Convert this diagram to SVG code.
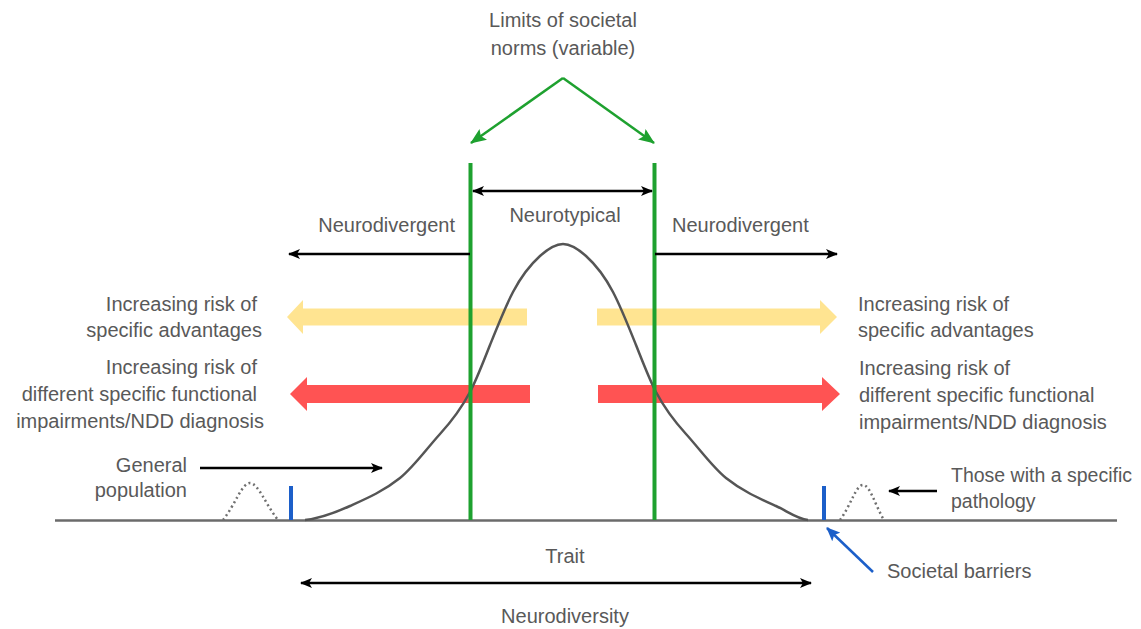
<svg xmlns="http://www.w3.org/2000/svg" width="1141" height="629" viewBox="0 0 1141 629">
<style>
text{font-family:"Liberation Sans",Arial,sans-serif;font-size:20px;fill:#595959}
.blk{stroke:#000;stroke-width:2.5;fill:none}
.grn{stroke:#1ea12f;fill:none}
.blue{stroke:#1c5fc9;fill:none}
.dot{stroke:#707070;stroke-width:2.5;fill:none;stroke-dasharray:2 3}
.yel{fill:#ffd966;opacity:0.72}
.red{fill:#ff1a1a;opacity:0.75}
</style>
<defs>
<marker id="ab" viewBox="0 0 12 10" refX="11" refY="5" markerWidth="12" markerHeight="10" markerUnits="userSpaceOnUse" orient="auto-start-reverse"><path d="M0,0 L12,5 L0,10 L3,5 Z" fill="#000"/></marker>
<marker id="ag" viewBox="0 0 16 13" refX="15" refY="6.5" markerWidth="16" markerHeight="13" markerUnits="userSpaceOnUse" orient="auto"><path d="M0,0 L16,6.5 L0,13 L3,6.5 Z" fill="#1ea12f"/></marker>
<marker id="abl" viewBox="0 0 14 12" refX="13" refY="6" markerWidth="14" markerHeight="12" markerUnits="userSpaceOnUse" orient="auto"><path d="M0,0 L14,6 L0,12 L3,6 Z" fill="#1c5fc9"/></marker>
</defs>
<rect width="1141" height="629" fill="#fff"/>

<g id="baseline"><line x1="55" y1="520.5" x2="1117" y2="520.5" stroke="#6b6b6b" stroke-width="2.5"/></g>

<g id="bands">
<path class="yel" d="M527,308.5 L303,308.5 L303,300 L287,317 L303,334 L303,325.5 L527,325.5 Z"/>
<path class="yel" d="M597,308.5 L820,308.5 L820,300 L837,317 L820,334 L820,325.5 L597,325.5 Z"/>
<path class="red" d="M530,385 L307,385 L307,377 L290,394 L307,411 L307,403 L530,403 Z"/>
<path class="red" d="M598,385 L822,385 L822,377 L840,394 L822,411 L822,403 L598,403 Z"/>
</g>

<g id="curve">
<path d="M305,520 C320,518.5 335,512.75 350,506 C366.67,498.5 383.33,491.33 400,478 C413.33,467.33 426.67,448.67 440,434 C450,423 460,411 470,392 C476.67,379.33 483.33,361.67 490,345 C497.67,325.83 505.33,306.57 513,292 C522,274.9 531,264.1 540,256 C547.67,249.1 555.33,244 563,244 C570.67,244 578.33,249.1 586,256 C595,264.1 604,274.9 613,292 C620.67,306.57 628.33,325.83 636,345 C642.67,361.67 649.33,379.33 656,392 C666,411 676,423 686,434 C699.33,448.67 712.67,467.33 726,478 C742.67,491.33 759.33,498.5 776,506 C786.67,510.8 797.33,518.9 808,520" fill="none" stroke="#555" stroke-width="2.5"/>
<path class="dot" d="M223,520 C235,505 242,483 250,483 C258,483 266,505 278,520"/>
<path class="dot" d="M840,520 C851,505 856,485 863,485 C870,485 875,505 884,520"/>
</g>

<g id="limits">
<line class="grn" x1="470.5" y1="163" x2="470.5" y2="520" stroke-width="4"/>
<line class="grn" x1="654.5" y1="163" x2="654.5" y2="520" stroke-width="4"/>
<text x="563" y="27" text-anchor="middle">Limits of societal</text>
<text x="563" y="55" text-anchor="middle">norms (variable)</text>
</g>

<g id="barriers">
<line class="blue" x1="291" y1="486" x2="291" y2="520" stroke-width="4"/>
<line class="blue" x1="824" y1="486" x2="824" y2="520" stroke-width="4"/>
<text x="887" y="578">Societal barriers</text>
</g>

<g id="connectors">
<line class="grn" x1="563" y1="78" x2="471" y2="143" stroke-width="2.5" marker-end="url(#ag)"/>
<line class="grn" x1="563" y1="78" x2="654" y2="143" stroke-width="2.5" marker-end="url(#ag)"/>
<line class="blk" x1="473" y1="191" x2="652" y2="191" marker-start="url(#ab)" marker-end="url(#ab)"/>
<line class="blk" x1="470" y1="254" x2="289" y2="254" marker-end="url(#ab)"/>
<line class="blk" x1="655" y1="254" x2="837" y2="254" marker-end="url(#ab)"/>
<line class="blk" x1="200" y1="468" x2="382" y2="468" marker-end="url(#ab)"/>
<line class="blk" x1="937" y1="491" x2="889" y2="491" marker-end="url(#ab)"/>
<line class="blue" x1="873" y1="572" x2="827" y2="528" stroke-width="2.5" marker-end="url(#abl)"/>
<line class="blk" x1="301" y1="583" x2="811" y2="583" marker-start="url(#ab)" marker-end="url(#ab)"/>
</g>

<g id="neurotypical"><text x="565" y="222" text-anchor="middle">Neurotypical</text></g>
<g id="nd-left"><text x="455" y="232" text-anchor="end">Neurodivergent</text></g>
<g id="nd-right"><text x="672" y="232">Neurodivergent</text></g>

<g id="adv-left">
<text x="257" y="311" text-anchor="end">Increasing risk of</text>
<text x="262" y="337" text-anchor="end">specific advantages</text>
</g>
<g id="adv-right">
<text x="858" y="311">Increasing risk of</text>
<text x="858" y="337">specific advantages</text>
</g>
<g id="imp-left">
<text x="257" y="374" text-anchor="end">Increasing risk of</text>
<text x="257" y="401" text-anchor="end">different specific functional</text>
<text x="264" y="428" text-anchor="end">impairments/NDD diagnosis</text>
</g>
<g id="imp-right">
<text x="859" y="375">Increasing risk of</text>
<text x="859" y="402">different specific functional</text>
<text x="859" y="429">impairments/NDD diagnosis</text>
</g>

<g id="general">
<text x="187" y="472" text-anchor="end">General</text>
<text x="187" y="497" text-anchor="end">population</text>
</g>
<g id="pathology">
<text x="951" y="482" style="font-size:19.5px">Those with a specific</text>
<text x="951" y="508" style="font-size:19.5px">pathology</text>
</g>
<g id="trait"><text x="565" y="563" text-anchor="middle">Trait</text></g>
<g id="neurodiversity"><text x="565" y="623" text-anchor="middle">Neurodiversity</text></g>
</svg>
